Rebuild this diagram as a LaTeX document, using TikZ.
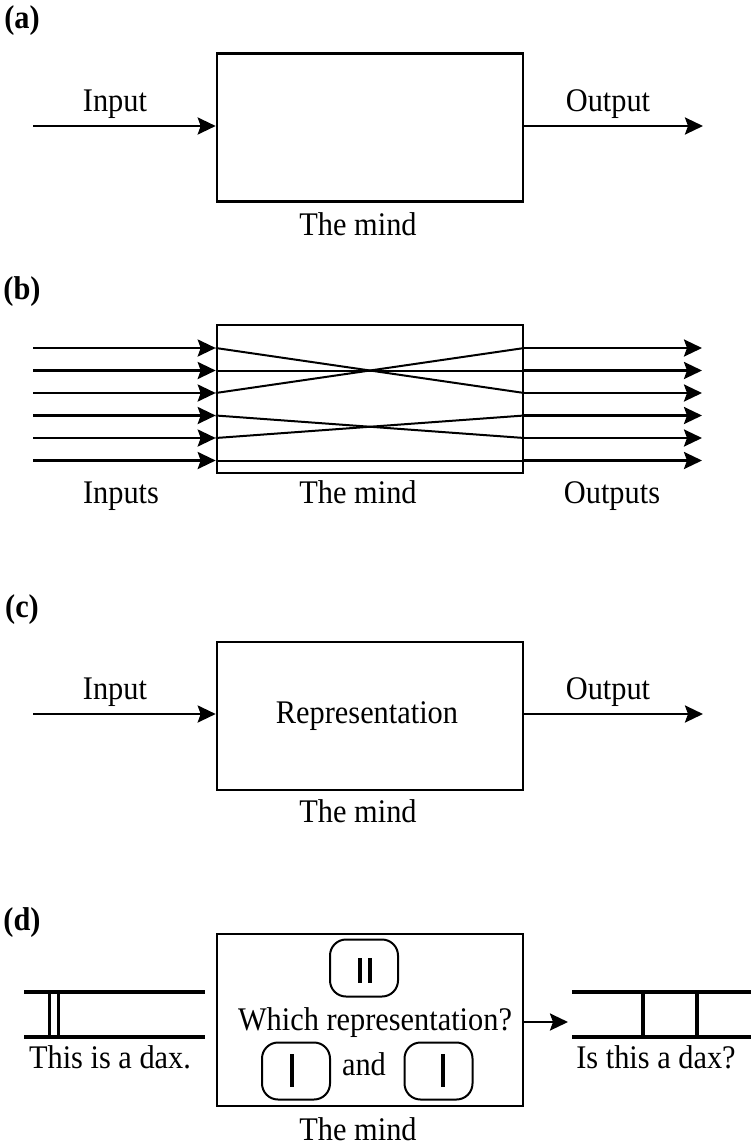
\documentclass[tikz,border=0pt]{standalone}
\usepackage{fontspec}
\setmainfont[FakeStretch=0.92]{Liberation Serif}
\usetikzlibrary{arrows.meta,positioning}

\begin{document}
\begin{tikzpicture}[x=0.5pt,y=-0.5pt,font=\fontsize{16.5}{19}\selectfont,
       mind/.style={draw,line width=1.3pt,minimum width=153pt,minimum height=74pt,inner sep=0pt},
       arr/.style={-{Stealth[length=9pt,width=8.5pt,inset=1.5pt]},line width=1.3pt},
       wire/.style={line width=1pt},
       lbl/.style={anchor=base,inner sep=0pt},
       tag/.style={font=\fontsize{16.5}{19}\selectfont\bfseries,inner sep=0pt},
       rail/.style={line width=1.9pt},
       pill/.style={draw,line width=1pt,rounded corners=8pt,minimum width=34pt,minimum height=28.5pt,inner sep=0pt},
       bar/.style={line width=1.8pt}]
      \useasboundingbox (0,0) rectangle (751,1145);

      % (a) one input, one output
      \node[tag] (ta) at (22,21) {(a)};
      \node[mind] (A) at (370,127.5) {};
      \coordinate (ain) at (33,126);
      \coordinate (aout) at (703,126);
      \draw[arr] (ain) -- (ain -| A.west);
      \draw[arr] (aout -| A.east) -- (aout);
      \node[lbl] (ainl) at (115,112) {Input};
      \node[lbl] (aoutl) at (608,112) {Output};
      \node[lbl] (amind) at (358,235) {The mind};

      % (b) many inputs wired to many outputs
      \node[tag] (tb) at (22,292) {(b)};
      \node[mind] (B) at (370,399) {};
      \coordinate (i1) at (33,348);   \coordinate (o1) at (702,348);
      \coordinate (i2) at (33,370.5); \coordinate (o2) at (702,370.5);
      \coordinate (i3) at (33,393);   \coordinate (o3) at (702,393);
      \coordinate (i4) at (33,415.5); \coordinate (o4) at (702,415.5);
      \coordinate (i5) at (33,438);   \coordinate (o5) at (702,438);
      \coordinate (i6) at (33,460.5); \coordinate (o6) at (702,460.5);
      \draw[arr] (i1) -- (i1 -| B.west);
      \draw[arr] (i2) -- (i2 -| B.west);
      \draw[arr] (i3) -- (i3 -| B.west);
      \draw[arr] (i4) -- (i4 -| B.west);
      \draw[arr] (i5) -- (i5 -| B.west);
      \draw[arr] (i6) -- (i6 -| B.west);
      \draw[arr] (o1 -| B.east) -- (o1);
      \draw[arr] (o2 -| B.east) -- (o2);
      \draw[arr] (o3 -| B.east) -- (o3);
      \draw[arr] (o4 -| B.east) -- (o4);
      \draw[arr] (o5 -| B.east) -- (o5);
      \draw[arr] (o6 -| B.east) -- (o6);
      \draw[wire] (i1 -| B.west) -- (o3 -| B.east);
      \draw[wire] (i2 -| B.west) -- (o2 -| B.east);
      \draw[wire] (i3 -| B.west) -- (o1 -| B.east);
      \draw[wire] (i4 -| B.west) -- (o5 -| B.east);
      \draw[wire] (i5 -| B.west) -- (o4 -| B.east);
      \draw[wire] (i6 -| B.west) -- (o6 -| B.east);
      \node[lbl] (binl) at (121,503) {Inputs};
      \node[lbl] (bmind) at (358,503) {The mind};
      \node[lbl] (boutl) at (612,503) {Outputs};

      % (c) a representation in between
      \node[tag] (tc) at (22,610) {(c)};
      \node[mind] (C) at (370,716) {};
      \node[lbl] (crep) at (367,723) {Representation};
      \coordinate (cin) at (33,714);
      \coordinate (cout) at (703,714);
      \draw[arr] (cin) -- (cin -| C.west);
      \draw[arr] (cout -| C.east) -- (cout);
      \node[lbl] (cinl) at (115,699) {Input};
      \node[lbl] (coutl) at (608,699) {Output};
      \node[lbl] (cmind) at (358,822) {The mind};

      % (d) the dax example
      \node[tag] (td) at (22,923) {(d)};
      \node[mind,minimum height=86pt] (D) at (370,1020) {};
      \draw[rail] (24,992) -- (205,992);
      \draw[rail] (24,1037) -- (205,1037);
      \draw[wire,line width=1.3pt] (49.5,992) -- (49.5,1037);
      \draw[wire,line width=1.3pt] (58.5,992) -- (58.5,1037);
      \node[lbl] (dleft) at (110,1068) {This is a dax.};
      \node[pill] (p2) at (364,968) {};
      \draw[bar] (360,958) -- (360,983);
      \draw[bar] (370,958) -- (370,983);
      \node[lbl] (dq) at (375,1030) {Which representation?};
      \node[pill] (pa) at (296,1071) {};
      \draw[bar] (292,1054) -- (292,1087);
      \node[lbl] (dand) at (364,1075) {and};
      \node[pill] (pb) at (438.5,1071) {};
      \draw[bar] (443,1054) -- (443,1087);
      \coordinate (dout) at (568,1022);
      \draw[arr] (dout -| D.east) -- (dout);
      \draw[rail] (572,992) -- (751,992);
      \draw[rail] (572,1037) -- (751,1037);
      \draw[rail] (643,992) -- (643,1037);
      \draw[rail] (697,992) -- (697,1037);
      \node[lbl] (dright) at (656,1068) {Is this a dax?};
      \node[lbl] (dmind) at (358,1140) {The mind};
    \end{tikzpicture}
\end{document}
